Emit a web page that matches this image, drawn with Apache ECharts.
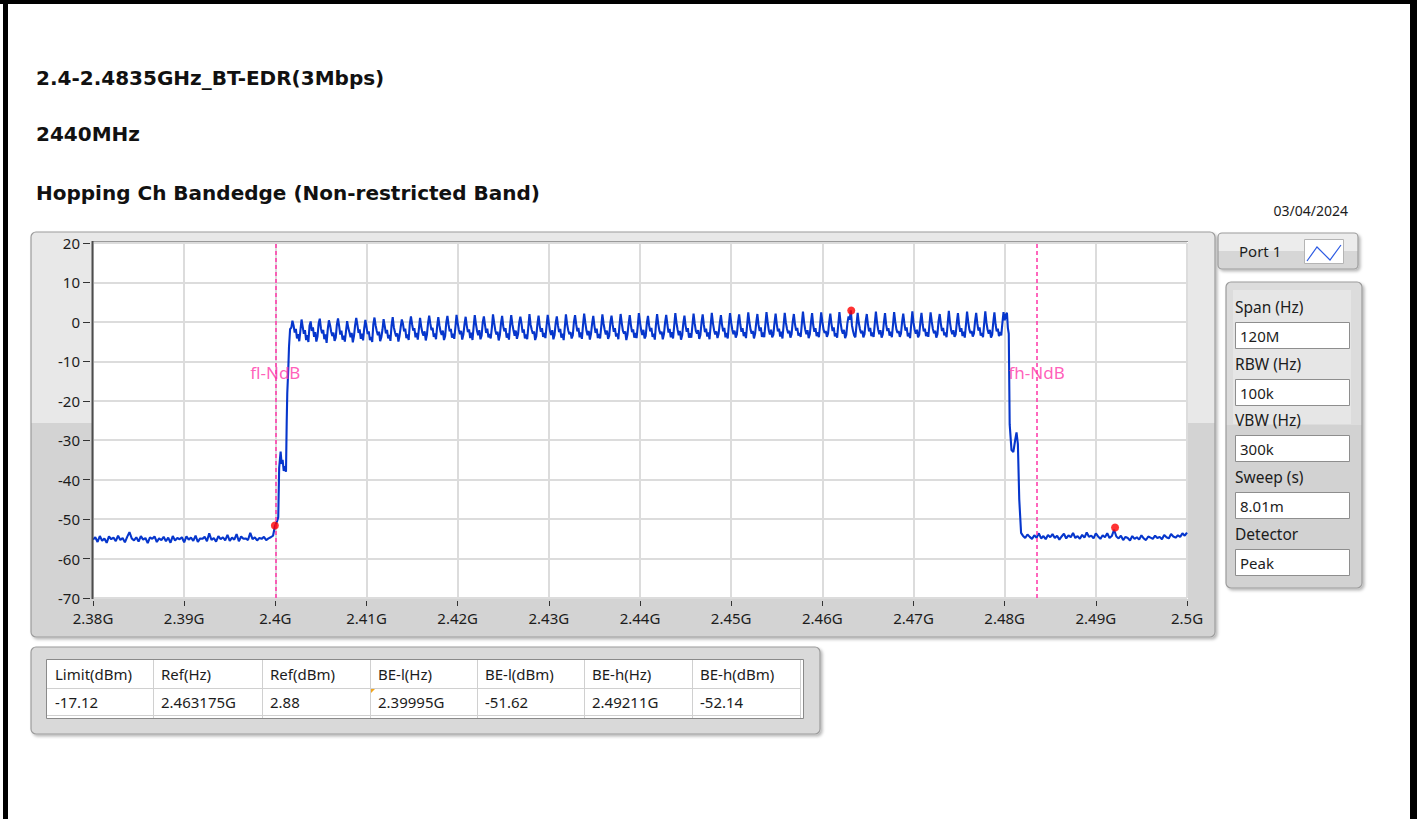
<!DOCTYPE html>
<html>
<head>
<meta charset="utf-8">
<title>Hopping Ch Bandedge (Non-restricted Band)</title>
<script src="https://cdn.jsdelivr.net/npm/echarts@6.0.0/dist/echarts.min.js"></script>
<style>
  html, body { margin: 0; padding: 0; background: #ffffff; }
  #chart { width: 1417px; height: 819px; }
</style>
</head>
<body>
<div id="chart"></div>
<script>
// ---- Report headings ----
const titleLines = ['2.4-2.4835GHz_BT-EDR(3Mbps)', '2440MHz', 'Hopping Ch Bandedge (Non-restricted Band)'];
const reportDate = '03/04/2024';
const portName = 'Port 1';

// ---- Analyzer settings ----
const settingLabels = ['Span (Hz)', 'RBW (Hz)', 'VBW (Hz)', 'Sweep (s)', 'Detector'];
const settingValues = ['120M', '100k', '300k', '8.01m', 'Peak'];

// ---- Axes (frequency in MHz, level in dBm) ----
const freqMinMHz = 2380, freqMaxMHz = 2500, freqStepMHz = 10;
const levelMin = -70, levelMax = 20, levelStep = 10;

// ---- Band-edge markers (frequency in GHz, level in dBm) ----
const limitDbm = -17.12;
const refFreqGHz = 2.463175, refDbm = 2.88;
const beLowFreqGHz = 2.39995, beLowDbm = -51.62;
const beHighFreqGHz = 2.49211, beHighDbm = -52.14;
const tableHeaders = ['Limit(dBm)', 'Ref(Hz)', 'Ref(dBm)', 'BE-l(Hz)', 'BE-l(dBm)', 'BE-h(Hz)', 'BE-h(dBm)'];

// ---- N dB edge lines (MHz) ----
const ndbEdgeNames = ['fl-NdB', 'fh-NdB'];
const ndbEdgeFreqMHz = [2400.0, 2483.5];

// ---- Measured trace ----
// noise floor below the band, 2380.00 .. 2399.75 MHz, 0.25 MHz bins
const lowFloorStartMHz = 2380, floorStepMHz = 0.25;
const lowFloorDbm = [
  -55.2, -54.6, -55.8, -54.3, -55.5, -54.9, -56.0, -54.4, -55.1, -54.7, -55.6, -54.2, -55.3, -54.8, -55.9, -54.5, -53.3, -54.9, -55.4, -54.6,
  -55.7, -54.3, -55.2, -54.8, -56.1, -54.6, -55.0, -54.4, -55.8, -54.9, -55.3, -54.5, -55.6, -54.7, -56.0, -54.3, -55.4, -54.8, -55.1, -54.6,
  -55.9, -54.4, -55.2, -54.7, -55.5, -54.2, -55.8, -54.9, -55.0, -54.5, -55.6, -53.6, -55.3, -54.8, -55.7, -54.3, -55.1, -54.6, -55.4, -54.0,
  -55.5, -54.7, -55.2, -53.8, -55.6, -54.4, -55.0, -54.9, -55.3, -53.5, -55.1, -54.6, -55.4, -54.8, -55.0, -54.5, -55.3, -54.9, -54.6, -54.2
];

// rising skirt [MHz, dBm]
const riseEdge = [
  [2399.95, -51.8], [2400.20, -50.5], [2400.32, -49.5], [2400.42, -37.0], [2400.58, -32.9],
  [2400.69, -36.0], [2400.80, -35.0], [2400.92, -37.8], [2401.05, -36.6], [2401.17, -38.0],
  [2401.25, -25.0], [2401.31, -18.0], [2401.42, -12.0], [2401.50, -6.3], [2401.62, -1.8]
];

// hopping band, 2401.75 .. 2480.25 MHz, 0.125 MHz bins (one row = two 1 MHz channels)
const bandStartMHz = 2401.75, bandStepMHz = 0.125;
const bandDbm = [
  -1.5, 0.3, -0.9, -2.7, -1.8, -4.2, -3.1, -4.9,   -2.2, 0.6, -1.2, -3.0, -2.1, -4.6, -3.4, -5.1,
  -1.0, 0.1, -2.3, -1.4, -3.8, -2.6, -5.0, -3.7,   -0.4, 0.8, -1.6, -2.9, -2.0, -4.4, -3.2, -5.3,
  -1.9, 0.4, -0.8, -2.5, -3.6, -2.7, -4.8, -4.0,   -0.7, 0.9, -1.1, -3.2, -2.2, -4.5, -3.5, -5.0,
  -2.4, 0.2, -1.5, -2.6, -3.9, -2.8, -5.2, -3.6,   -0.9, 1.0, -0.7, -2.8, -1.9, -4.3, -3.0, -4.7,
  -1.6, 0.5, -1.3, -3.1, -2.4, -4.6, -3.8, -5.1,   -0.6, 1.1, -0.9, -2.3, -3.4, -2.5, -4.9, -3.9,
  -2.0, 0.7, -1.0, -2.9, -2.0, -4.2, -3.3, -4.8,   -0.8, 1.2, -1.4, -2.6, -3.7, -2.9, -5.0, -3.5,
  -1.3, 0.6, -0.5, -2.4, -1.7, -4.1, -3.2, -4.6,   -0.5, 1.4, -0.6, -2.2, -1.6, -3.9, -2.8, -4.5,
  -1.7, 1.0, -1.2, -2.7, -3.5, -2.4, -4.7, -3.3,   -0.3, 1.6, -0.4, -2.1, -1.5, -3.8, -2.9, -4.4,
  -1.1, 1.2, -0.9, -2.5, -3.3, -2.2, -4.6, -3.6,   -0.2, 1.5, -0.7, -2.4, -1.8, -4.0, -3.0, -4.3,
  -1.4, 1.8, -0.3, -2.0, -3.1, -2.3, -4.5, -3.2,   -0.6, 1.3, -1.0, -2.6, -1.9, -4.1, -2.7, -4.6,
  -1.2, 1.7, -0.5, -2.3, -3.4, -2.1, -4.4, -3.5,   -0.1, 1.4, -0.8, -2.8, -1.7, -3.9, -3.1, -4.2,
  -1.5, 1.9, -0.2, -2.1, -3.2, -2.5, -4.7, -3.4,   -0.4, 1.5, -1.1, -2.4, -1.6, -4.0, -2.9, -4.5,
  -0.9, 1.7, -0.6, -2.2, -3.5, -2.2, -4.3, -3.1,   -0.2, 1.3, -0.4, -2.7, -1.9, -4.2, -3.2, -4.4,
  -1.3, 2.0, -0.7, -2.0, -3.0, -2.4, -4.6, -3.6,   -0.5, 1.6, -1.0, -2.5, -1.6, -3.8, -2.8, -4.1,
  -1.0, 1.8, -0.3, -2.3, -3.3, -2.1, -4.4, -3.3,   -0.3, 1.4, -0.9, -2.6, -1.8, -4.0, -3.0, -4.6,
  -1.4, 1.9, -0.5, -2.1, -3.1, -2.6, -4.2, -3.4,   -0.1, 1.7, -0.6, -2.4, -1.5, -3.9, -2.7, -4.3,
  -0.8, 2.1, -0.2, -2.2, -3.4, -2.3, -4.5, -3.0,   -0.4, 1.5, -1.0, -2.8, -1.7, -4.1, -3.1, -4.2,
  -1.2, 1.9, -0.4, -2.0, -3.2, -2.2, -4.3, -3.5,   -0.2, 1.6, -0.7, -2.5, -1.6, -3.7, -2.9, -4.4,
  -0.9, 2.0, -0.3, -2.3, -3.0, -2.4, -4.6, -3.2,   -0.5, 1.7, -0.8, -2.6, -1.9, -4.0, -2.8, -4.1,
  -1.1, 2.2, -0.1, -2.1, -3.3, -2.0, -4.2, -3.6,   -0.3, 1.5, -0.9, -2.4, -1.5, -3.8, -3.0, -4.5,
  -0.7, 2.0, -0.5, -2.2, -3.1, -2.5, -4.4, -3.1,   -0.2, 1.8, -0.6, -2.7, -1.8, -3.9, -2.6, -4.2,
  -1.0, 2.2, -0.2, -2.0, -3.4, -2.3, -4.5, -3.4,   -0.4, 1.6, -1.0, -2.5, -1.6, -4.0, -2.9, -4.0,
  -0.8, 2.1, -0.4, -2.3, -3.0, -2.1, -4.3, -3.3,   -0.1, 1.9, -0.7, -2.6, -1.7, -3.7, -2.7, -4.4,
  -0.9, 2.3, -0.3, -2.1, -3.2, -2.4, -4.1, -3.0,   -0.3, 1.7, -0.8, -2.4, -1.5, -3.9, -2.8, -4.2,
  -0.6, 2.2, -0.2, -2.0, -3.1, -2.2, -4.0, -3.2,   -0.1, 1.9, -0.6, -2.5, -1.6, -3.6, -2.6, -4.1,
  -0.8, 2.4, -0.1, -1.9, -3.0, -2.3, -4.2, -3.0,   -0.2, 2.0, -0.7, -2.3, -1.4, -3.8, -2.7, -3.9,
  -0.7, 2.5, 0.0, -2.1, -3.2, -2.0, -3.9, -3.3,    -0.3, 2.1, -0.5, -2.4, -1.7, -3.7, -2.5, -4.2,
  -0.9, 2.3, -0.2, -1.8, -2.9, -2.2, -4.0, -3.1,   0.0, 2.0, -0.6, -2.2, -1.5, -3.5, -2.8, -3.8,
  -0.5, 2.6, -0.1, -2.0, -3.1, -2.1, -4.1, -3.2,   -0.2, 2.2, -0.8, -2.5, -1.6, -3.6, -2.6, -3.9,
  -0.8, 2.4, 0.1, -1.9, -2.8, -2.3, -3.8, -3.0,    -0.1, 2.1, -0.5, -2.3, -1.4, -3.7, -2.9, -4.0,
  -0.6, 2.5, -0.2, -2.1, -3.0, -2.0, -4.1, -3.3,   -0.3, 1.4, 0.6, 2.9, -0.9, -2.4, -3.5, -3.9,
  -0.7, 2.3, -0.3, -1.8, -2.9, -2.2, -3.9, -3.1,   0.1, 2.0, -0.6, -2.4, -1.5, -3.6, -2.7, -3.8,
  -0.5, 2.6, -0.1, -2.0, -3.1, -2.1, -4.0, -3.2,   -0.2, 2.2, -0.7, -2.3, -1.6, -3.5, -2.5, -3.9,
  -0.8, 2.5, 0.0, -1.9, -2.8, -2.3, -3.8, -3.0,    0.0, 2.1, -0.4, -2.2, -1.4, -3.7, -2.8, -4.1,
  -0.6, 2.7, -0.2, -2.0, -3.0, -2.0, -3.9, -3.3,   -0.1, 2.3, -0.6, -2.4, -1.7, -3.6, -2.6, -3.8,
  -0.7, 2.4, 0.1, -1.8, -2.9, -2.2, -4.0, -3.1,    0.2, 2.0, -0.5, -2.3, -1.5, -3.4, -2.7, -3.9,
  -0.4, 2.8, -0.1, -2.1, -3.1, -2.1, -3.8, -3.2,   -0.2, 2.2, -0.7, -2.5, -1.6, -3.6, -2.5, -4.0,
  -0.8, 2.6, 0.0, -1.9, -2.9, -2.3, -3.7, -3.0,    0.1, 2.3, -0.4, -2.2, -1.4, -3.5, -2.8, -3.9,
  -0.5, 2.7, -0.2, -2.0, -3.0, -2.0, -4.0, -3.3,   -0.1, 2.4, -0.6, -2.4, -1.7, -3.6, -2.6, -3.4,
  -0.3, 2.5, 0.4, 1.8, 2.3
];

// falling skirt [MHz, dBm]
const fallEdge = [
  [2480.35, -1.5], [2480.45, -3.0], [2480.55, -26.0], [2480.75, -32.5], [2480.95, -33.0],
  [2481.15, -30.0], [2481.30, -28.0], [2481.45, -31.0], [2481.60, -45.0], [2481.80, -53.5]
];

// noise floor above the band, 2482.00 .. 2500.00 MHz, 0.25 MHz bins
const highFloorStartMHz = 2482;
const highFloorDbm = [
  -54.2, -54.8, -53.9, -54.5, -55.0, -54.1, -54.7, -53.6, -54.9, -54.3, -55.1, -54.0, -54.6, -53.8, -54.8, -54.2, -55.2, -54.4, -53.7, -54.9,
  -54.1, -54.6, -53.5, -54.8, -54.3, -55.0, -54.0, -54.7, -53.4, -54.5, -54.2, -54.9, -53.6, -54.4, -55.0, -54.1, -54.6, -53.6, -54.8, -54.3,
  -52.7, -54.4, -54.9, -54.2, -55.3, -54.5, -54.8, -55.4, -54.3, -55.0, -54.6, -55.2, -54.1, -54.9, -55.3, -54.4, -54.7, -55.0, -54.2, -54.8,
  -54.5, -55.1, -54.0, -54.6, -54.9, -53.8, -54.4, -54.7, -54.1, -54.5, -53.6, -54.2, -53.4
];

// ---- assemble the sweep as [MHz, dBm] pairs ----
function sweepRun(startMHz, stepMHz, values) {
  return values.map((v, i) => [startMHz + i * stepMHz, v]);
}
const traceData = []
  .concat(sweepRun(lowFloorStartMHz, floorStepMHz, lowFloorDbm))
  .concat(riseEdge)
  .concat(sweepRun(bandStartMHz, bandStepMHz, bandDbm))
  .concat(fallEdge)
  .concat(sweepRun(highFloorStartMHz, floorStepMHz, highFloorDbm));

const markerData = [
  [refFreqGHz * 1000, refDbm],
  [beLowFreqGHz * 1000, beLowDbm],
  [beHighFreqGHz * 1000, beHighDbm]
];
const tableValues = [
  limitDbm.toFixed(2), refFreqGHz + 'G', refDbm.toFixed(2),
  beLowFreqGHz + 'G', beLowDbm.toFixed(2), beHighFreqGHz + 'G', beHighDbm.toFixed(2)
];

// ---- styling ----
const UI_FONT = '"Noto Sans", "Open Sans", sans-serif';
const TITLE_FONT = '"DejaVu Sans", "Noto Sans", sans-serif';
const TEXT_COLOR = '#1c1c1c';
const TRACE_COLOR = '#0636cc';
const NDB_COLOR = '#ff35a8';
const GRID_LINE = '#dcdcdc';
const PANEL_EDGE = '#9c9c9c';
const ndbLabelLevel = -12.9;

const plot = { left: 93, top: 243, width: 1094, height: 355 };

function twoTone(top, bottom, split) {
  return new echarts.graphic.LinearGradient(0, 0, 0, 1, [
    { offset: 0, color: top }, { offset: split, color: top },
    { offset: split, color: bottom }, { offset: 1, color: bottom }
  ]);
}
const panelShadow = { shadowBlur: 3, shadowOffsetX: 2, shadowOffsetY: 2, shadowColor: 'rgba(0,0,0,0.28)' };

const graphics = [];

// page frame
graphics.push(
  { type: 'rect', z: -20, shape: { x: 0, y: 0, width: 1410, height: 4 }, style: { fill: '#000' } },
  { type: 'rect', z: -20, shape: { x: 3, y: 0, width: 5, height: 819 }, style: { fill: '#000' } },
  { type: 'rect', z: -20, shape: { x: 1410, y: 0, width: 7, height: 819 }, style: { fill: '#000' } }
);

// headings
const titleY = [78, 134, 193];
titleLines.forEach((t, i) => graphics.push({
  type: 'text', z: 10, x: 36, y: titleY[i],
  style: { text: t, fill: '#111', font: 'bold 20px ' + TITLE_FONT, textVerticalAlign: 'middle' }
}));
graphics.push({
  type: 'text', z: 10, x: 1348, y: 210,
  style: { text: reportDate, fill: TEXT_COLOR, font: '14px ' + UI_FONT, textAlign: 'right', textVerticalAlign: 'middle' }
});

// graph frame and plot area
graphics.push(
  { type: 'rect', z: -10, shape: { x: 31, y: 232, width: 1184, height: 405, r: 5 },
    style: Object.assign({ fill: twoTone('#e8e8e8', '#d3d3d3', 0.472), stroke: PANEL_EDGE, lineWidth: 1.2 }, panelShadow) },
  { type: 'rect', z: -9, shape: { x: 92, y: 241, width: 1096, height: 358 }, style: { fill: '#ffffff' } },
  { type: 'line', z: 8, shape: { x1: 92, y1: 241.5, x2: 1188, y2: 241.5 }, style: { stroke: '#9a9a9a', lineWidth: 1 } },
  { type: 'line', z: 8, shape: { x1: 92.5, y1: 241, x2: 92.5, y2: 599 }, style: { stroke: '#4c4c4c', lineWidth: 2 } }
);

// port selector
graphics.push(
  { type: 'rect', z: -10, shape: { x: 1218, y: 233, width: 140, height: 36, r: 4 },
    style: Object.assign({ fill: twoTone('#ececec', '#d6d6d6', 0.5), stroke: PANEL_EDGE, lineWidth: 1.2 }, panelShadow) },
  { type: 'text', z: 10, x: 1239, y: 251,
    style: { text: portName, fill: TEXT_COLOR, font: '15px ' + UI_FONT, textVerticalAlign: 'middle' } },
  { type: 'rect', z: 9, shape: { x: 1304.5, y: 239.5, width: 39, height: 24 }, style: { fill: '#fff', stroke: '#b4b4b4', lineWidth: 1 } },
  { type: 'polyline', z: 10, shape: { points: [[1307, 261], [1317, 247], [1330, 260], [1341, 245]] },
    style: { stroke: '#2d5be3', lineWidth: 1.2, fill: 'none' } }
);

// analyzer settings panel
graphics.push(
  { type: 'rect', z: -10, shape: { x: 1226, y: 282, width: 136, height: 306, r: 5 },
    style: Object.assign({ fill: twoTone('#dcdcdc', '#d2d2d2', 0.467), stroke: PANEL_EDGE, lineWidth: 1.2 }, panelShadow) },
  { type: 'rect', z: -9, shape: { x: 1233, y: 290, width: 118, height: 134 }, style: { fill: '#e6e6e6' } }
);
const settingLabelY = [307, 364, 420, 477, 534];
settingLabels.forEach((lab, i) => {
  const by = settingLabelY[i] + 15;
  graphics.push(
    { type: 'text', z: 10, x: 1235, y: settingLabelY[i],
      style: { text: lab, fill: TEXT_COLOR, font: '15.5px ' + UI_FONT, textVerticalAlign: 'middle' } },
    { type: 'rect', z: 9, shape: { x: 1235.5, y: by + 0.5, width: 114, height: 26 },
      style: { fill: '#fff', stroke: '#8e8e8e', lineWidth: 1 } },
    { type: 'text', z: 10, x: 1240, y: by + 14,
      style: { text: settingValues[i], fill: TEXT_COLOR, font: '15px ' + UI_FONT, textVerticalAlign: 'middle' } }
  );
});

// results table
const colX = [47, 153, 262, 370, 477, 584, 692, 800];
graphics.push(
  { type: 'rect', z: -10, shape: { x: 31, y: 647, width: 789, height: 87, r: 5 },
    style: Object.assign({ fill: '#d9d9d9', stroke: PANEL_EDGE, lineWidth: 1.2 }, panelShadow) },
  { type: 'rect', z: -9, shape: { x: 46.5, y: 659.5, width: 757, height: 59 }, style: { fill: '#fff', stroke: '#8a8a8a', lineWidth: 1 } },
  { type: 'line', z: 8, shape: { x1: 47, y1: 688.5, x2: 800, y2: 688.5 }, style: { stroke: '#d0d0d0', lineWidth: 1 } },
  { type: 'line', z: 8, shape: { x1: 47, y1: 715.5, x2: 800, y2: 715.5 }, style: { stroke: '#d0d0d0', lineWidth: 1 } },
  { type: 'polygon', z: 9, shape: { points: [[371, 689], [375, 689], [371, 693]] }, style: { fill: '#f2a51c' } }
);
colX.slice(1).forEach(x => graphics.push(
  { type: 'line', z: 8, shape: { x1: x + 0.5, y1: 660, x2: x + 0.5, y2: 718 }, style: { stroke: '#d0d0d0', lineWidth: 1 } }
));
tableHeaders.forEach((h, i) => graphics.push(
  { type: 'text', z: 10, x: colX[i] + 8, y: 674,
    style: { text: h, fill: TEXT_COLOR, font: '15px ' + UI_FONT, textVerticalAlign: 'middle' } },
  { type: 'text', z: 10, x: colX[i] + 8, y: 702,
    style: { text: tableValues[i], fill: TEXT_COLOR, font: '15px ' + UI_FONT, textVerticalAlign: 'middle' } }
));

const chart = echarts.init(document.getElementById('chart'), null, { renderer: 'svg', width: 1417, height: 819 });
chart.setOption({
  animation: false,
  backgroundColor: '#ffffff',
  grid: { left: plot.left, top: plot.top, width: plot.width, height: plot.height, containLabel: false },
  xAxis: {
    type: 'value', min: freqMinMHz, max: freqMaxMHz, interval: freqStepMHz, offset: 3,
    axisLine: { show: false, onZero: false },
    axisTick: { show: true, length: 5, lineStyle: { color: '#333', width: 1 } },
    axisLabel: { margin: 9, color: TEXT_COLOR, fontSize: 15, fontFamily: UI_FONT,
      formatter: v => (v / 1000) + 'G' },
    splitLine: { show: true, lineStyle: { color: GRID_LINE, width: 2 } }
  },
  yAxis: {
    type: 'value', min: levelMin, max: levelMax, interval: levelStep, offset: 3,
    axisLine: { show: false, onZero: false },
    axisTick: { show: true, length: 7, lineStyle: { color: '#333', width: 1 } },
    axisLabel: { margin: 10, color: TEXT_COLOR, fontSize: 15, fontFamily: UI_FONT },
    splitLine: { show: true, lineStyle: { color: GRID_LINE, width: 2 } }
  },
  graphic: graphics,
  series: [
    {
      name: 'Trace', type: 'line', data: traceData, showSymbol: false, symbol: 'none', z: 3,
      lineStyle: { color: TRACE_COLOR, width: 2.1 }
    },
    {
      name: 'N dB edges', type: 'scatter', z: 4, symbolSize: 0,
      data: ndbEdgeFreqMHz.map((f, i) => ({ value: [f, ndbLabelLevel], name: ndbEdgeNames[i] })),
      label: { show: true, position: 'inside', formatter: p => p.name, color: NDB_COLOR, fontSize: 17, fontFamily: UI_FONT },
      markLine: {
        silent: true, symbol: 'none', animation: false,
        label: { show: false },
        lineStyle: { color: NDB_COLOR, type: [4, 3], width: 1.5 },
        data: ndbEdgeFreqMHz.map(f => ({ xAxis: f }))
      }
    },
    {
      name: 'Markers', type: 'scatter', z: 6, data: markerData, symbolSize: 8,
      itemStyle: { color: '#ff0000' }
    }
  ]
});
</script>
</body>
</html>
